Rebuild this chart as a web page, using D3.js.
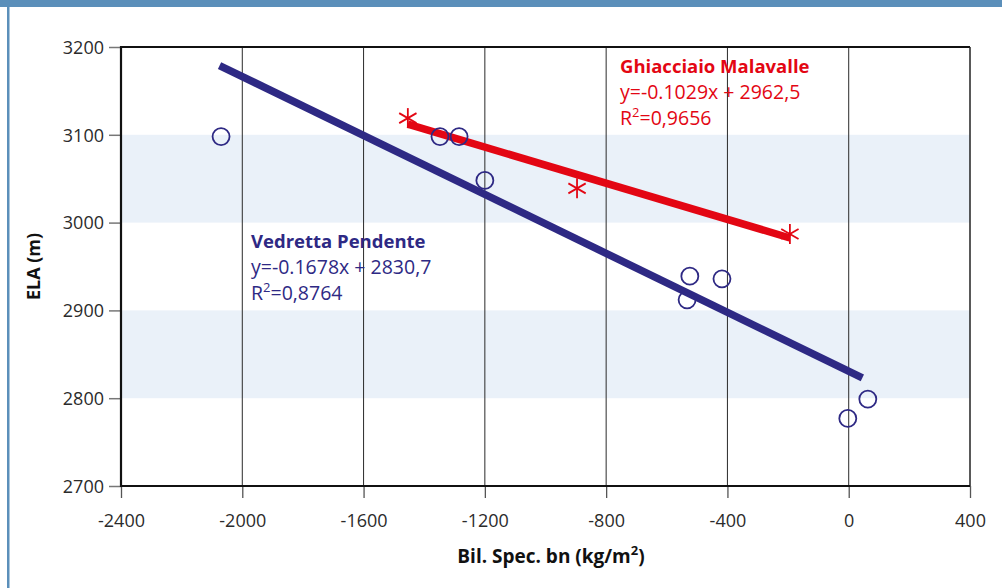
<!DOCTYPE html>
<html>
<head>
<meta charset="utf-8">
<script src="https://cdn.jsdelivr.net/npm/d3@7"></script>
<style>
  html, body { margin: 0; padding: 0; background: #fff; }
  svg { display: block; }
  text { font-family: "Open Sans", "Noto Sans", sans-serif; }
</style>
</head>
<body>
<svg id="chart" width="1002" height="588"></svg>
<script>
// ---- Data ----
const xTicks = [-2400, -2000, -1600, -1200, -800, -400, 0, 400];
const yTicks = [2700, 2800, 2900, 3000, 3100, 3200];
const bands = [[3000, 3100], [2800, 2900]];

const vedrettaX = [-2070, -1348, -1285, -1200, -524, -533, -418, -3, 63];
const vedrettaY = [3098, 3098, 3098, 3048, 2939, 2912, 2936, 2777, 2799];
const vedrettaFit = { slope: -0.1678, intercept: 2830.7, from: -2075, to: 45 };

const malavalleX = [-1454, -896, -194];
const malavalleY = [3119, 3039, 2987];
const malavalleFit = { slope: -0.1029, intercept: 2962.5, from: -1454, to: -194 };

const seriesNames = ["Ghiacciaio Malavalle", "Vedretta Pendente"];
const eqLabels = ["y=-0.1029x + 2962,5", "y=-0.1678x + 2830,7"];
const r2Labels = ["0,9656", "0,8764"];

const xTitle = "Bil. Spec. bn (kg/m";
const yTitle = "ELA (m)";

// ---- Layout ----
(function () {
const svg = d3.select("#chart");
const W = 1002, H = 588;
const pL = 121, pR = 970, pT = 47, pB = 486;
const RED = "#e30613", BLUE = "#2e2984";
const fmt = d => String(d);

const x = d3.scaleLinear().domain([-2400, 400]).range([pL, pR]);
const y = d3.scaleLinear().domain([2700, 3200]).range([pB, pT]);

// frame decorations
svg.append("rect").attr("x", 0).attr("y", 0).attr("width", W).attr("height", 7).attr("fill", "#5b8fba");
svg.append("rect").attr("x", 7).attr("y", 0).attr("width", 2.5).attr("height", H).attr("fill", "#5b8fba");

// bands
svg.selectAll("rect.band").data(bands).enter().append("rect")
  .attr("class", "band")
  .attr("x", pL).attr("width", pR - pL)
  .attr("y", d => y(d[1])).attr("height", d => y(d[0]) - y(d[1]))
  .attr("fill", "#eaf1f9");

// vertical gridlines
svg.selectAll("line.vg").data(xTicks.slice(1, -1)).enter().append("line")
  .attr("class", "vg")
  .attr("x1", d => x(d)).attr("x2", d => x(d))
  .attr("y1", pT).attr("y2", pB)
  .attr("stroke", "#2a2a2a").attr("stroke-width", 1);

// plot border
svg.append("line").attr("x1", pL).attr("x2", pR).attr("y1", pT).attr("y2", pT).attr("stroke", "#111").attr("stroke-width", 2.2);
svg.append("line").attr("x1", pR).attr("x2", pR).attr("y1", pT).attr("y2", pB).attr("stroke", "#222").attr("stroke-width", 1.5);

// axes
const yAxis = d3.axisLeft(y).tickValues(yTicks).tickSize(12).tickPadding(5).tickFormat(fmt);
const gy = svg.append("g").attr("transform", `translate(${pL},0)`).call(yAxis);
gy.select(".domain").remove();
gy.selectAll(".tick line").attr("stroke", "#777").attr("stroke-width", 1.5);
gy.selectAll(".tick text").attr("fill", "#2b2b2b").style("font-size", "18px").attr("dy", "0.35em");

const xAxis = d3.axisBottom(x).tickValues(xTicks).tickSize(12).tickPadding(16).tickFormat(fmt);
const gx = svg.append("g").attr("transform", `translate(0,${pB})`).call(xAxis);
gx.select(".domain").remove();
gx.selectAll(".tick line").attr("stroke", "#555").attr("stroke-width", 1.3);
gx.selectAll(".tick text").attr("fill", "#2b2b2b").style("font-size", "18px").attr("dy", "0.71em");

svg.append("line").attr("x1", pL).attr("x2", pL).attr("y1", pT - 1).attr("y2", pB + 1).attr("stroke", "#111").attr("stroke-width", 2.2);
svg.append("line").attr("x1", pL).attr("x2", pR).attr("y1", pB).attr("y2", pB).attr("stroke", "#111").attr("stroke-width", 2.2);

// trendlines
function fitLine(f, color) {
  svg.append("line")
    .attr("x1", x(f.from)).attr("y1", y(f.slope * f.from + f.intercept))
    .attr("x2", x(f.to)).attr("y2", y(f.slope * f.to + f.intercept))
    .attr("stroke", color).attr("stroke-width", 7.5);
}
fitLine(vedrettaFit, BLUE);
fitLine(malavalleFit, RED);

// circles
svg.selectAll("circle.v").data(vedrettaX.map((d, i) => [d, vedrettaY[i]])).enter().append("circle")
  .attr("class", "v")
  .attr("cx", d => x(d[0])).attr("cy", d => y(d[1])).attr("r", 8.5)
  .attr("fill", "none").attr("stroke", BLUE).attr("stroke-width", 1.8);

// stars
const starG = svg.selectAll("g.s").data(malavalleX.map((d, i) => [d, malavalleY[i]])).enter().append("g")
  .attr("class", "s")
  .attr("transform", d => `translate(${x(d[0])},${y(d[1])})`);
starG.each(function () {
  const g = d3.select(this);
  [0, 60, 120].forEach(a => {
    g.append("line").attr("x1", 0).attr("y1", -10).attr("x2", 0).attr("y2", 10)
      .attr("transform", `rotate(${a})`).attr("stroke", RED).attr("stroke-width", 1.8);
  });
});

// annotations
function annot(px, py, i, color) {
  const t = svg.append("text").attr("x", px).attr("y", py).attr("fill", color).style("font-size", "19.5px");
  t.append("tspan").attr("x", px).attr("dy", 0).attr("font-weight", "bold").style("font-size", "18.5px").text(seriesNames[i]);
  t.append("tspan").attr("x", px).attr("dy", 26).text(eqLabels[i]);
  t.append("tspan").attr("x", px).attr("dy", 26).text("R");
  t.append("tspan").attr("dy", -8).style("font-size", "13px").text("2");
  t.append("tspan").attr("dy", 8).text("=" + r2Labels[i]);
}
annot(620, 73, 0, RED);
annot(251, 248, 1, BLUE);

// axis titles
const xt = svg.append("text").attr("x", 551).attr("y", 563)
  .attr("text-anchor", "middle").attr("font-weight", "bold").attr("fill", "#111").style("font-size", "19px");
xt.append("tspan").text(xTitle);
xt.append("tspan").attr("dy", -8).style("font-size", "13px").text("2");
xt.append("tspan").attr("dy", 8).text(")");

svg.append("text").attr("transform", `translate(40,${(pT + pB) / 2}) rotate(-90)`)
  .attr("text-anchor", "middle").attr("font-weight", "bold").attr("fill", "#111").style("font-size", "18px")
  .text(yTitle);
})();
</script>
</body>
</html>
